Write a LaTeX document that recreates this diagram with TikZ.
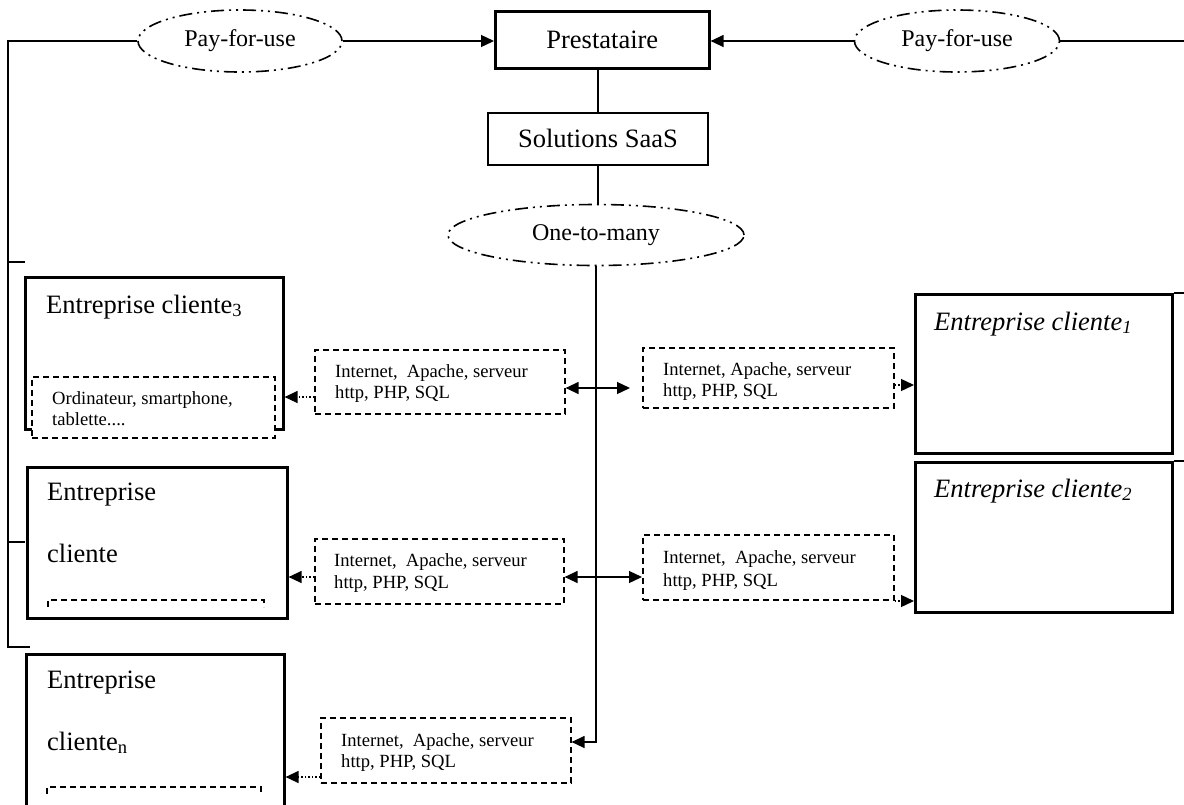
\documentclass[tikz,border=0pt]{standalone}
\usepackage{fontspec}
\setmainfont{Liberation Serif}
\usetikzlibrary{arrows.meta,shapes.geometric}

\begin{document}
\begin{tikzpicture}[x=1pt,y=-1pt,
  heavybox/.style={draw, line width=2.6pt, inner sep=0pt, anchor=north west, fill=white},
  lightbox/.style={draw, line width=1.8pt, inner sep=0pt, anchor=north west},
  netbox/.style={draw, line width=1.6pt, dash pattern=on 6pt off 4pt, inner sep=0pt, anchor=north west, fill=white},
  oval/.style={ellipse, draw, line width=1.6pt, dash pattern=on 13pt off 5pt on 2pt off 5pt on 2pt off 5pt, inner sep=0pt},
  link/.style={line width=1.3pt},
  arr/.style={link, -{Triangle[length=13pt,width=12pt]}},
  dotarr/.style={line width=1.3pt, dash pattern=on 1.5pt off 2pt, -{Triangle[length=13pt,width=12pt]}},
  bigtxt/.style={font=\fontsize{26.5}{30}\selectfont},
  midtxt/.style={font=\fontsize{24}{28}\selectfont},
  smalltxt/.style={font=\fontsize{18.6}{21}\selectfont, anchor=base west, inner sep=0pt},
  headtxt/.style={font=\fontsize{26.5}{30}\selectfont, anchor=base west, inner sep=0pt},
]
\clip (0,0) rectangle (1184,804);
\fill[white] (0,0) rectangle (1184,804);

% provider chain
\node[lightbox, line width=2.6pt, minimum width=214pt, minimum height=57pt, bigtxt] (prest) at (494,10) {Prestataire};
\node[lightbox, minimum width=220pt, minimum height=52pt, bigtxt] (sol) at (487,112) {Solutions SaaS};
\node[oval, minimum width=296pt, minimum height=61pt, midtxt] (otm) at (596,235) {One-to-many};
\node[oval, minimum width=204pt, minimum height=62pt, midtxt] (payL) at (240,41) {Pay-for-use};
\node[oval, minimum width=205pt, minimum height=62pt, midtxt] (payR) at (957,41) {Pay-for-use};

\draw[link] (prest.south -| sol.north) -- (sol.north);
\draw[link] (sol.south) -- (sol.south |- otm.north);
\draw[arr] (payL.east) -- (payL.east -| prest.west);
\draw[arr] (payR.west) -- (payR.west -| prest.east);

% client companies
\node[heavybox, minimum width=258pt, minimum height=152pt] (c3) at (24,276) {};
\node[heavybox, minimum width=260pt, minimum height=151pt] (cB) at (26,466) {};
\node[heavybox, minimum width=258pt, minimum height=165pt] (cN) at (25,653) {};
\node[heavybox, minimum width=257pt, minimum height=159pt] (c1) at (914,293) {};
\node[heavybox, minimum width=257pt, minimum height=150pt] (c2) at (914,461) {};

\node[headtxt] (c3a) at (46,313) {Entreprise cliente\textsubscript{3}};
\node[headtxt] (cBa) at (47,500) {Entreprise};
\node[headtxt] (cBb) at (47,562) {cliente};
\node[headtxt] (cNa) at (47,688) {Entreprise};
\node[headtxt] (cNb) at (47,750) {cliente\textsubscript{n}};
\node[headtxt] (c1a) at (934,330) {\textit{Entreprise cliente\textsubscript{1}}};
\node[headtxt] (c2a) at (934,497) {\textit{Entreprise cliente\textsubscript{2}}};

% devices inside the client boxes
\node[netbox, minimum width=243pt, minimum height=61pt] (dev3) at (31,376) {};
\node[smalltxt] (dev3a) at (52,404) {Ordinateur, smartphone,};
\node[smalltxt] (dev3b) at (52,425) {tablette....};
\draw[line width=1.6pt, dash pattern=on 6pt off 4pt] (48,607) -- (48,600) -- (264,600) -- (264,607);
\draw[line width=1.6pt, dash pattern=on 6pt off 4pt] (47,794) -- (47,787) -- (261,787) -- (261,794);

% network stacks
\node[netbox, minimum width=250pt, minimum height=64pt] (d1l) at (314,349) {};
\node[smalltxt] (d1la) at (335,377) {Internet,\ \ Apache, serveur};
\node[smalltxt] (d1lb) at (335,398) {http, PHP, SQL};
\node[netbox, minimum width=251pt, minimum height=60pt] (d1r) at (642,347) {};
\node[smalltxt] (d1ra) at (663,375) {Internet, Apache, serveur};
\node[smalltxt] (d1rb) at (663,396) {http, PHP, SQL};
\node[netbox, minimum width=249pt, minimum height=65pt] (d2l) at (314,538) {};
\node[smalltxt] (d2la) at (334,566) {Internet,\ \ Apache, serveur};
\node[smalltxt] (d2lb) at (334,588) {http, PHP, SQL};
\node[netbox, minimum width=251pt, minimum height=65pt] (d2r) at (642,534) {};
\node[smalltxt] (d2ra) at (663,563) {Internet,\ \ Apache, serveur};
\node[smalltxt] (d2rb) at (663,586) {http, PHP, SQL};
\node[netbox, minimum width=250pt, minimum height=65pt] (d3) at (320,717) {};
\node[smalltxt] (d3a) at (341,746) {Internet,\ \ Apache, serveur};
\node[smalltxt] (d3b) at (341,767) {http, PHP, SQL};

% one-to-many distribution
\coordinate (vb) at (596,742);
\coordinate (j1) at (596,388);
\coordinate (j2) at (596,577);
\draw[arr] (otm.south) -- (vb) -- (vb -| d3.east);
\draw[arr] (j1) -- (j1 -| d1l.east);
\draw[arr, shorten >=12pt] (j1) -- (j1 -| d1r.west);
\draw[arr] (j2) -- (j2 -| d2l.east);
\draw[arr] (j2) -- (j2 -| d2r.west);

% stacks to clients
\coordinate (r1l) at (0,397);
\coordinate (r1r) at (0,385);
\coordinate (r2l) at (0,577);
\coordinate (r2r) at (0,601);
\coordinate (r3) at (0,777);
\draw[dotarr] (d1l.west |- r1l) -- (c3.east |- r1l);
\draw[dotarr] (d1r.east |- r1r) -- (c1.west |- r1r);
\draw[dotarr] (d2l.west |- r2l) -- (cB.east |- r2l);
\draw[dotarr] (d2r.east |- r2r) -- (c2.west |- r2r);
\draw[dotarr] (d3.west |- r3) -- (cN.east |- r3);

% billing frame on the left
\coordinate (lt) at (8,41);
\coordinate (lb) at (8,647);
\coordinate (lbe) at (30,647);
\coordinate (tk1) at (8,262);
\coordinate (tk1e) at (25,262);
\coordinate (tk2) at (8,542);
\coordinate (tk2e) at (25,542);
\draw[link] (payL.west) -- (lt) -- (lb) -- (lbe);
\draw[link] (tk1) -- (tk1e);
\draw[link] (tk2) -- (tk2e);

% billing frame on the right
\coordinate (rt) at (1184,41);
\draw[link] (payR.east) -- (rt);
\draw[link] (c1.north east) -- (c1.north east -| rt);
\draw[link] (c2.north east) -- (c2.north east -| rt);
\end{tikzpicture}
\end{document}
